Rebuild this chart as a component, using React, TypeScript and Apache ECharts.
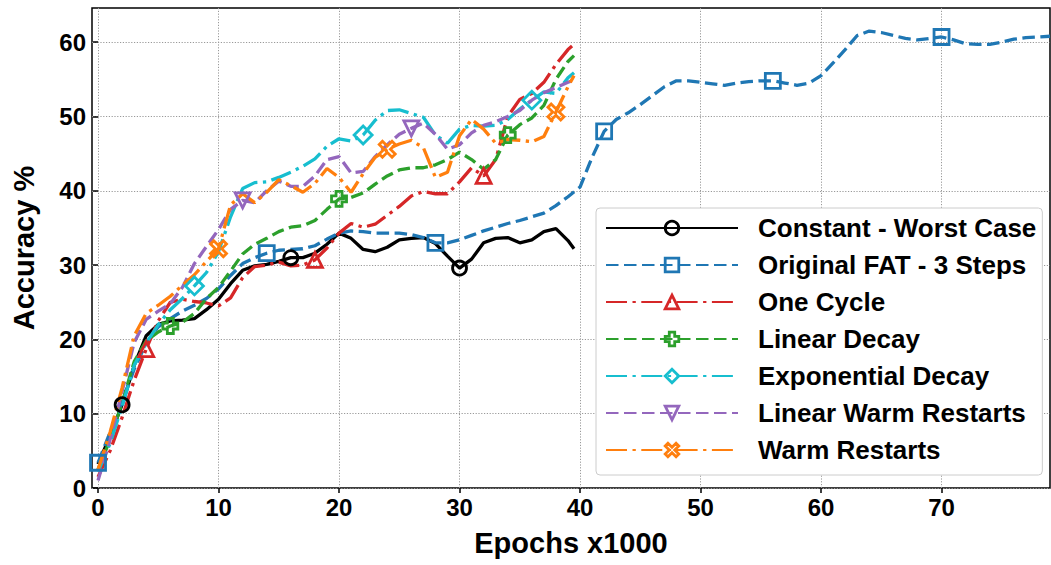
import React, { useEffect, useRef } from "react";
import * as echarts from "echarts";

const FONT = '"Liberation Sans", Arial, Helvetica, sans-serif';

// x positions (epochs x1000)
const EPOCHS_SHORT = [0, 1, 2, 3, 4, 5, 6, 7, 8, 9, 10, 11, 12, 13, 14, 15, 16, 17, 18, 19, 20, 21, 22, 23, 24, 25, 26, 27, 28, 29, 30, 31, 32, 33, 34, 35, 36, 37, 38, 39, 39.5];
const EPOCHS_LONG = [0, 1, 2, 3, 4, 5, 6, 7, 8, 9, 10, 11, 12, 13, 14, 15, 16, 17, 18, 19, 20, 21, 22, 23, 24, 25, 26, 27, 28, 29, 30, 31, 32, 33, 34, 35, 36, 37, 38, 39, 40, 41, 42, 43, 44, 45, 46, 47, 48, 49, 50, 51, 52, 53, 54, 55, 56, 57, 58, 59, 60, 61, 62, 63, 64, 65, 66, 67, 68, 69, 70, 71, 72, 73, 74, 75, 76, 77, 78, 79];

const CONSTANT_WORST = [3.2, 7, 11.2, 16.5, 20.5, 22, 22.5, 22.6, 22.8, 24, 25.4, 27.5, 29.3, 29.9, 30.1, 30.5, 31, 31, 31.6, 32.8, 34.3, 33.6, 32.1, 31.8, 32.4, 33.4, 33.6, 33.7, 32.9, 31.2, 29.6, 30.8, 33.0, 33.6, 33.7, 33, 33.4, 34.5, 34.9, 33.3, 32.2];
const ORIGINAL_FAT = [3.4, 7.5, 11.5, 16, 19.5, 21.7, 22.8, 23.8, 24.6, 25.5, 26.8, 28.6, 30.2, 31, 31.6, 32, 32.1, 32.2, 32.6, 33.5, 34.3, 34.6, 34.5, 34.3, 34.3, 34.3, 34.1, 33.7, 33, 33, 33.4, 34, 34.6, 35.1, 35.6, 36, 36.5, 37, 38, 39.2, 40.5, 44.5, 48, 49.6, 50.5, 51.6, 52.8, 54, 54.8, 54.8, 54.6, 54.4, 54.2, 54.5, 54.7, 54.8, 54.8, 54.5, 54.2, 54.5, 55.5, 57.2, 59, 60.9, 61.5, 61.3, 60.9, 60.5, 60.3, 60.5, 60.7, 60.3, 59.8, 59.7, 59.7, 60, 60.4, 60.6, 60.7, 60.8];
const ONE_CYCLE = [1.5, 5, 9.5, 14.5, 18.7, 22.5, 25, 25.4, 25.1, 24.9, 24.5, 25.6, 28.3, 29.8, 30, 30.4, 29.9, 30, 30.7, 32.3, 34.3, 35.6, 35.1, 35.5, 36.7, 37.9, 39.3, 39.9, 39.6, 39.6, 41.2, 43.1, 42, 44.2, 50, 52.3, 53.1, 54.6, 57, 59, 59.7];
const LINEAR_DECAY = [2.5, 6.5, 11.5, 17, 19.8, 21, 21.8, 22.3, 23.5, 25.5, 27, 29.2, 31.5, 32.8, 33.6, 34.5, 35.1, 35.3, 36, 37.5, 38.9, 39.1, 39.7, 40.9, 42, 42.8, 43.1, 43.1, 43.5, 44.2, 45.2, 44.2, 42.9, 44.2, 47.5, 48.9, 49.8, 51.5, 55, 57.4, 58.2];
const EXPONENTIAL_DECAY = [2.2, 6, 11, 16.5, 19.5, 22, 24, 25.5, 27.2, 29, 31.8, 36.5, 40.3, 41.1, 41.2, 41.8, 42.5, 43.3, 44.3, 46, 47, 46.7, 47.5, 49.5, 50.8, 50.9, 50.4, 49.9, 47.5, 46.4, 48.3, 48.8, 48.7, 48.8, 49.6, 51, 52.2, 53.3, 53.1, 55.2, 55.9];
const LINEAR_WARM_RESTARTS = [1, 6.5, 13, 19.6, 22.7, 23.8, 24.8, 27, 30.2, 32.5, 34.8, 37.5, 38.7, 38.4, 40, 41.3, 40.6, 40.6, 42, 44.2, 44.6, 42.4, 42.6, 44.6, 46.2, 47.6, 48.4, 49.1, 47.6, 45.6, 46.2, 47.8, 48.8, 49.3, 50, 50.8, 52.2, 53.2, 53.9, 54.6, 54.9];
const WARM_RESTARTS = [2.5, 7.5, 13.5, 20.5, 23.5, 24.6, 25.8, 27.3, 28.7, 30.5, 32.2, 38.1, 39.6, 38.4, 39.8, 41.5, 40.7, 39.8, 41, 43, 41.8, 39.8, 42.3, 44.5, 45.6, 46.3, 46.8, 45.8, 41.8, 42.5, 47.4, 49.6, 48.3, 46.4, 46.9, 46.8, 46.6, 47.3, 50.6, 54, 55.5];

const X_TICKS = [0, 10, 20, 30, 40, 50, 60, 70];
const Y_TICKS = [0, 10, 20, 30, 40, 50, 60];

const PLUS_PATH = "path://M3,0H7V3H10V7H7V10H3V7H0V3H3Z";
const TRI_DOWN_PATH = "path://M0,0L10,0L5,9Z";
const X_PATH = "path://M0,2L2,0L5,3L8,0L10,2L7,5L10,8L8,10L5,7L2,10L0,8L3,5Z";

const DASHED = [12.5, 5.5];
const DASHDOT = [21, 5.5, 3.3, 5.5];

type Spec = {
  name: string;
  xs: number[];
  ys: number[];
  color: string;
  dash: any;
  symbol: string;
  size: number;
  offset: number;
};

const SPECS: Spec[] = [
  { name: "Constant - Worst Case", xs: EPOCHS_SHORT, ys: CONSTANT_WORST, color: "#000000", dash: "solid", symbol: "circle", size: 14, offset: 2 },
  { name: "Original FAT - 3 Steps", xs: EPOCHS_LONG, ys: ORIGINAL_FAT, color: "#1f77b4", dash: DASHED, symbol: "rect", size: 15, offset: 0 },
  { name: "One Cycle", xs: EPOCHS_SHORT, ys: ONE_CYCLE, color: "#d62728", dash: DASHDOT, symbol: "triangle", size: 15, offset: 4 },
  { name: "Linear Decay", xs: EPOCHS_SHORT, ys: LINEAR_DECAY, color: "#2ca02c", dash: DASHED, symbol: PLUS_PATH, size: 15, offset: 6 },
  { name: "Exponential Decay", xs: EPOCHS_SHORT, ys: EXPONENTIAL_DECAY, color: "#17becf", dash: DASHDOT, symbol: "diamond", size: 18, offset: 8 },
  { name: "Linear Warm Restarts", xs: EPOCHS_SHORT, ys: LINEAR_WARM_RESTARTS, color: "#9467bd", dash: DASHED, symbol: TRI_DOWN_PATH, size: 15, offset: 12 },
  { name: "Warm Restarts", xs: EPOCHS_SHORT, ys: WARM_RESTARTS, color: "#ff7f0e", dash: DASHDOT, symbol: X_PATH, size: 16, offset: 10 },
];

function buildSeries(s: Spec) {
  const data = s.xs.map((x, i) => {
    const isMarker = Number.isInteger(x) && x >= s.offset && (x - s.offset) % 14 === 0;
    return isMarker ? { value: [x, s.ys[i]] } : { value: [x, s.ys[i]], symbol: "none" };
  });
  return {
    name: s.name,
    type: "line",
    data,
    color: s.color,
    symbol: s.symbol,
    symbolSize: s.size,
    showSymbol: true,
    showAllSymbol: true,
    smooth: false,
    silent: true,
    lineStyle: { color: s.color, width: 3.3, type: s.dash, cap: "butt" },
    itemStyle: { color: "rgba(255,255,255,0)", borderColor: s.color, borderWidth: 2.8 },
    emphasis: { disabled: true },
  };
}

export default function App() {
  const ref = useRef<HTMLDivElement>(null);
  useEffect(() => {
    if (!ref.current) return;
    const chart = echarts.init(ref.current, undefined, { renderer: "svg" });
    const labelStyle = { fontFamily: FONT, fontSize: 24, fontWeight: "bold", color: "#000" };
    chart.setOption({
      animation: false,
      backgroundColor: "#ffffff",
      textStyle: { fontFamily: FONT },
      grid: {
        left: 92,
        right: 1,
        top: 8,
        bottom: 77,
        show: true,
        borderColor: "#000",
        borderWidth: 1.5,
        backgroundColor: "transparent",
      },
      legend: {
        orient: "vertical",
        left: 596,
        top: 208,
        padding: [7, 6, 12, 9],
        itemWidth: 132,
        itemHeight: 17,
        itemGap: 11,
        selectedMode: false,
        backgroundColor: "#ffffff",
        borderColor: "#cccccc",
        borderWidth: 1,
        borderRadius: 4,
        itemStyle: { borderWidth: 2.8 },
        textStyle: { fontFamily: FONT, fontSize: 26, fontWeight: "bold", color: "#000", lineHeight: 26, padding: [0, 0, 0, 15] },
        data: SPECS.map((s) => s.name),
      },
      xAxis: {
        type: "value",
        min: -0.5,
        max: 79,
        interval: 10,
        name: "Epochs x1000",
        nameLocation: "middle",
        nameGap: 40,
        nameTextStyle: { fontFamily: FONT, fontSize: 29, fontWeight: "bold", color: "#000" },
        axisLine: { show: false },
        axisTick: { show: true, length: 5, lineStyle: { color: "#000", width: 1.5 }, customValues: X_TICKS },
        axisLabel: { ...labelStyle, margin: 7, customValues: X_TICKS },
        splitLine: { show: true, lineStyle: { color: "#999", width: 1, type: [1.2, 1.6] } },
      },
      yAxis: {
        type: "value",
        min: 0,
        max: 64.6,
        interval: 10,
        name: "Accuracy %",
        nameLocation: "middle",
        nameGap: 54,
        nameTextStyle: { fontFamily: FONT, fontSize: 29, fontWeight: "bold", color: "#000" },
        axisLine: { show: false },
        axisTick: { show: true, length: 5, lineStyle: { color: "#000", width: 1.5 }, customValues: Y_TICKS },
        axisLabel: { ...labelStyle, margin: 6, customValues: Y_TICKS },
        splitLine: { show: true, lineStyle: { color: "#999", width: 1, type: [1.2, 1.6] } },
      },
      series: SPECS.map(buildSeries),
    });
    return () => chart.dispose();
  }, []);
  return (
    <div
      ref={ref}
      style={{ position: "fixed", left: 0, top: 0, width: 1051, height: 565, background: "#fff" }}
    />
  );
}
